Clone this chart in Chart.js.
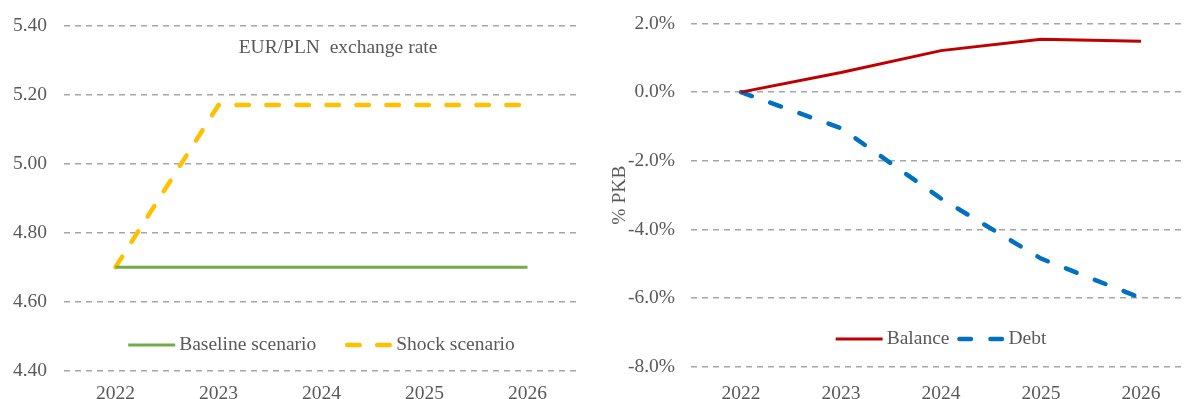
<!DOCTYPE html>
<html>
<head>
<meta charset="utf-8">
<script src="https://cdn.jsdelivr.net/npm/chart.js@4.4.1/dist/chart.umd.min.js"></script>
<style>
  body{margin:0;background:#fff;}
  #wrap{position:relative;width:1184px;height:399px;overflow:hidden;}
  #left{position:absolute;left:0;top:0;}
  #rightbox{position:absolute;left:592px;top:0;width:592px;height:399px;overflow:hidden;}
</style>
</head>
<body>
<div id="wrap">
  <canvas id="left" width="592" height="399"></canvas>
  <div id="rightbox"><canvas id="right" width="605" height="399"></canvas></div>
</div>
<script>
// data
var years = ['2022', '2023', '2024', '2025', '2026'];
var baseline = [4.70, 4.70, 4.70, 4.70, 4.70];
var shock = [4.70, 5.17, 5.17, 5.17, 5.17];
var balance = [0.0, 0.57, 1.21, 1.54, 1.48];
var debt = [0.0, -1.05, -3.1, -4.85, -6.0];
var rateAxis = [4.4, 5.4, 0.2];   // min, max, step
var pctAxis = [-8, 2, 2];

var txtColor = '#595959';
var fontFam = '"Liberation Serif", "Times New Roman", serif';
var gridColor = '#a6a6a6';

Chart.defaults.font.family = fontFam;
Chart.defaults.font.size = 19.5;
Chart.defaults.color = txtColor;

// legend and caption drawn inside the plot area
var insidePlugin = {
  id: 'inside',
  afterDraw: function(chart, args, opts){
    var ctx = chart.ctx;
    var area = chart.chartArea;
    ctx.save();
    ctx.font = '19.5px ' + fontFam;
    ctx.fillStyle = txtColor;
    ctx.textBaseline = 'middle';
    if (opts.title){
      ctx.textAlign = 'center';
      ctx.fillText(opts.title, opts.titleX, opts.titleY);
    }
    if (opts.legendY){
      var lineLen = 47, textGap = 4;
      var items = chart.data.datasets;
      var total = 0;
      for (var i = 0; i < items.length; i++){
        total += lineLen + textGap + ctx.measureText(items[i].label).width;
        if (i > 0) total += opts.gap;
      }
      var x = (area.left + area.right) / 2 - total / 2;
      var y = opts.legendY;
      ctx.textAlign = 'left';
      for (var j = 0; j < items.length; j++){
        var ds = items[j];
        ctx.beginPath();
        ctx.strokeStyle = ds.borderColor;
        ctx.lineWidth = ds.borderWidth;
        ctx.lineCap = ds.borderCapStyle || 'butt';
        ctx.setLineDash(ds.borderDash || []);
        var pad = ds.borderDash ? 2 : 0;
        ctx.moveTo(x + pad, y);
        ctx.lineTo(x + lineLen - pad, y);
        ctx.stroke();
        ctx.setLineDash([]);
        ctx.fillText(ds.label, x + lineLen + textGap, y);
        x += lineLen + textGap + ctx.measureText(ds.label).width + opts.gap;
      }
    }
    ctx.restore();
  }
};

function yScale(range, fmt, width, pad){
  return {
    min: range[0],
    max: range[1],
    ticks: {stepSize: range[2], padding: pad, color: txtColor, callback: fmt},
    grid: {color: gridColor, lineWidth: 1.5, drawTicks: false},
    border: {display: false, dash: [6, 5]},
    afterFit: function(scale){
      scale.width = width;
      scale.paddingTop = 0;
      scale.paddingBottom = 0;
    }
  };
}

function xScale(height, pad){
  return {
    offset: true,
    ticks: {padding: pad, color: txtColor, maxRotation: 0},
    grid: {display: false, drawTicks: false},
    border: {display: false},
    afterFit: function(scale){ scale.height = height; }
  };
}

function drawleft(){
  var ctx = document.getElementById('left').getContext('2d');
  var y = yScale(rateAxis, function(v){ return v.toFixed(2); }, 64, 17);
  new Chart(ctx, {
    type: 'line',
    data: {
      labels: years,
      datasets: [{
        label: 'Baseline scenario',
        data: baseline,
        borderColor: '#70ad47',
        borderWidth: 3,
        pointRadius: 0,
        tension: 0
      }, {
        label: 'Shock scenario',
        data: shock,
        borderColor: '#ffc000',
        borderWidth: 4.5,
        borderDash: [12.5, 17.5],
        borderCapStyle: 'round',
        pointRadius: 0,
        tension: 0
      }]
    },
    options: {
      responsive: false,
      animation: false,
      layout: {padding: {top: 25.7, right: 13, left: 0, bottom: 0}},
      scales: {x: xScale(28.3, 11), y: y},
      plugins: {
        legend: {display: false},
        tooltip: {enabled: false},
        inside: {title: 'EUR/PLN  exchange rate', titleX: 338, titleY: 48, legendY: 345, gap: 29}
      }
    },
    plugins: [insidePlugin]
  });
}

function drawright(){
  var ctx = document.getElementById('right').getContext('2d');
  var y = yScale(pctAxis, function(v){ return v.toFixed(1) + '%'; }, 99, 16);
  y.title = {display: true, text: '% PKB', color: txtColor, font: {size: 19.5}, padding: {top: 16.4, bottom: 0}};
  new Chart(ctx, {
    type: 'line',
    data: {
      labels: years,
      datasets: [{
        label: 'Balance',
        data: balance,
        borderColor: '#c00000',
        borderWidth: 3,
        pointRadius: 0,
        tension: 0
      }, {
        label: 'Debt',
        data: debt,
        borderColor: '#0070c0',
        borderWidth: 4.5,
        borderDash: [11.5, 19.5],
        borderCapStyle: 'round',
        pointRadius: 0,
        tension: 0
      }]
    },
    options: {
      responsive: false,
      animation: false,
      layout: {padding: {top: 23.5, right: 6, left: 0, bottom: 0}},
      scales: {x: xScale(32.3, 15), y: y},
      plugins: {
        legend: {display: false},
        tooltip: {enabled: false},
        inside: {legendY: 339, gap: 8}
      }
    },
    plugins: [insidePlugin]
  });
}

drawleft();
drawright();
</script>
</body>
</html>
